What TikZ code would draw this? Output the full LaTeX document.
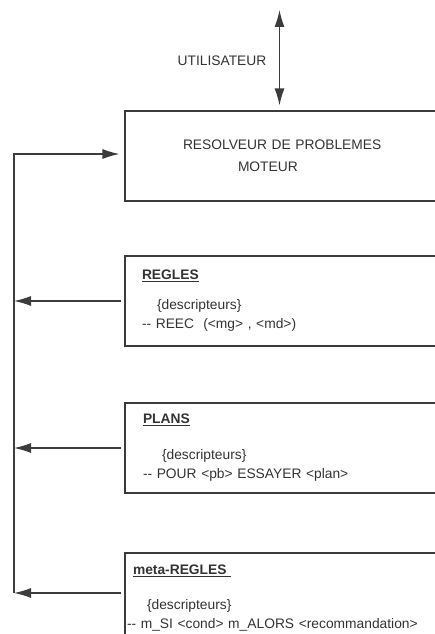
\documentclass[tikz,border=0pt]{standalone}
\usepackage{fontspec}
\setmainfont{Liberation Sans}
\usetikzlibrary{positioning,arrows.meta}
\definecolor{trait}{HTML}{3C3C3C}
\definecolor{texte}{HTML}{333333}
\begin{document}
\begin{tikzpicture}[
  x=1pt, y=-1pt,
  >={Latex[length=17pt,width=10pt]},
  boite/.style={rectangle, draw=trait, line width=1.2pt, minimum width=311pt, minimum height=90pt, text width=311pt, inner xsep=0pt, align=left, text=texte},
  fleche/.style={draw=trait, line width=1.2pt},
  font=\fontsize{13.8}{19}\selectfont
]
\useasboundingbox (0,0) rectangle (434,634);
\coordinate (haut) at (279.5,10);
\coordinate (bus) at (14,0);
\node[text=texte] (utilisateur) at (222,61) {UTILISATEUR};
\node[boite] (moteur) at (280.5,156) {\hspace*{58pt}RESOLVEUR DE PROBLEMES\\[3pt]\hspace*{113pt}MOTEUR};
\node[boite, below of=moteur, node distance=145pt] (regles) {\hspace*{17pt}\textbf{\underline{REGLES}}\\[11pt]\hspace*{32pt}\{descripteurs\}\\\hspace*{17pt}-{}- REEC\ \ (<mg> , <md>)};
\node[boite, below of=regles, node distance=147pt] (plans) {\hspace*{18pt}\textbf{\underline{PLANS}}\\[17pt]\hspace*{37pt}\{descripteurs\}\\\hspace*{18pt}-{}- POUR <pb> ESSAYER <plan>};
\node[boite, below of=plans, node distance=150pt] (meta) {\hspace*{8pt}\textbf{\underline{meta-REGLES\ }}\\[16pt]\hspace*{22pt}\{descripteurs\}\\\hspace*{2pt}-{}- m\_SI <cond> m\_ALORS <recommandation>};

\draw[fleche,<->] (haut) -- ([yshift=5pt]moteur.north -| haut);
\draw[fleche,->] ([xshift=-3pt]regles.west) -- (regles.west -| bus);
\draw[fleche,->] ([xshift=-3pt]plans.west) -- (plans.west -| bus);
\draw[fleche,->] ([xshift=-3pt,yshift=5pt]meta.west) -- ([yshift=5pt]meta.west -| bus);
\draw[fleche,->] ([yshift=5pt]meta.west -| bus) -- ([yshift=2pt]moteur.west -| bus) -- ([xshift=-5pt,yshift=2pt]moteur.west);
\end{tikzpicture}
\end{document}
